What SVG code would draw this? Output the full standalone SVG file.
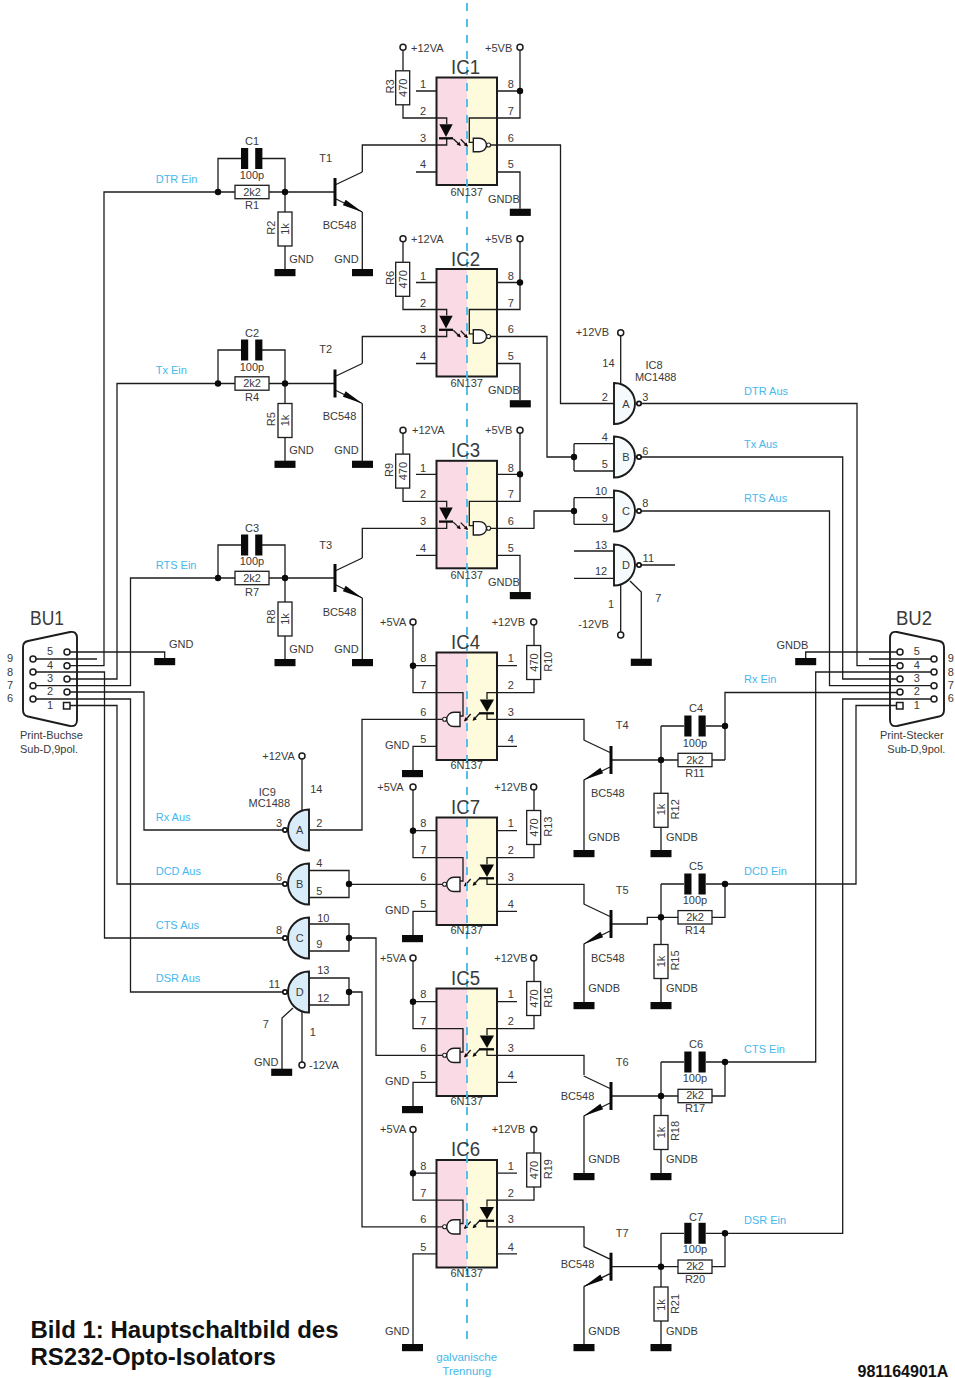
<svg xmlns="http://www.w3.org/2000/svg" width="955" height="1378" viewBox="0 0 955 1378">
<style>
text{font-family:"Liberation Sans",Arial,sans-serif;font-size:11px;fill:#3a3a3a}
.c{text-anchor:middle}
.b{fill:#45b8ec}
.big{font-size:20px}
.ttl{font-size:24px;font-weight:bold;fill:#111}
.no{font-size:16px;font-weight:bold;fill:#111}
.w{fill:none;stroke:#1c1c1c;stroke-width:1.3}
.ol{fill:none;stroke:#1c1c1c;stroke-width:2}
.res{fill:#fff;stroke:#1c1c1c;stroke-width:1.3}
.k{fill:#0a0a0a;stroke:none}
.tm{fill:#fff;stroke:#1c1c1c;stroke-width:1.5}
.g8{fill:#f5fafd;stroke:#1c1c1c;stroke-width:1.9}
.g9{fill:#d8edf9;stroke:#1c1c1c;stroke-width:1.9}
.sh{fill:#fff;stroke:#1c1c1c;stroke-width:1.9}
.dash{fill:none;stroke:#45b8ec;stroke-width:1.8;stroke-dasharray:8 8}
</style>
<defs>
<rect id="bar" class="k" x="-10.5" y="0" width="21" height="7.2"/>
<circle id="term" class="tm" r="3"/>
<circle id="dot" class="k" r="3.2"/>
<rect id="res-h" class="res" x="-17" y="-6.7" width="34" height="13.4"/>
<rect id="res-v" class="res" x="-7" y="-17" width="14" height="34"/>
<g id="cap"><rect class="k" x="-10.7" y="-10.5" width="7.2" height="21"/><rect class="k" x="3.5" y="-10.5" width="7.2" height="21"/></g>
<g id="npn">
<path class="w" d="M1,-7.5 L27.3,-20 M1,7 L27.3,20"/>
<path d="M0,-14 V14" fill="none" stroke="#0a0a0a" stroke-width="3"/>
<polygon class="k" points="27.3,20 7.9,13.2 10.6,7.8"/>
</g>
<g id="gate8"><path class="g8" d="M0,-20.5 A21,20.5 0 0 1 0,20.5 Z"/><circle cx="25" cy="0" r="2.2" fill="#fff" stroke="#111" stroke-width="1.7"/></g>
<g id="gate9"><path class="g9" d="M0,-20.5 A21,20.5 0 0 0 0,20.5 Z"/><circle cx="-24" cy="0" r="2.2" fill="#fff" stroke="#111" stroke-width="1.7"/></g>
<g id="opto-a">
<rect x="436.5" y="77.5" width="30.5" height="107.5" fill="#fadbe5"/>
<rect x="467" y="77.5" width="30" height="107.5" fill="#fefbdc"/>
<path class="w" d="M416,91 H436 M416,172 H436 M436,118 H446.7 V124 M446.7,138 V145 H436 M497,118 H469.3 V142.3 H473.3 M491,145 H497"/>
<rect class="ol" x="436.5" y="77.5" width="60.5" height="107.5"/>
<polygon class="k" points="439.3,124.3 452.7,124.3 446,137"/>
<path d="M439,138.3 H453" fill="none" stroke="#0a0a0a" stroke-width="2.3"/>
<path class="w" d="M453.3,138.8 L460,145.3 M460.7,139.3 L467.3,146"/>
<polygon class="k" points="460.8,146 456.6,144.6 459.4,141.8"/>
<polygon class="k" points="468,146.7 463.8,145.3 466.6,142.5"/>
<path fill="#fff" stroke="#1c1c1c" stroke-width="1.4" d="M473.3,138.3 H479.5 A7,6.7 0 0 1 479.5,151.7 H473.3 Z"/>
<circle cx="488.6" cy="145" r="2" fill="#fff" stroke="#1c1c1c" stroke-width="1.1"/>
</g>
<g id="opto-b">
<rect x="436.5" y="652.5" width="30.5" height="107.5" fill="#fadbe5"/>
<rect x="467" y="652.5" width="30" height="107.5" fill="#fefbdc"/>
<path class="w" d="M497,665.7 H517 M497,746.3 H517 M497,692.7 H487 V699.3 M487,713 V719.3 H497 M436,692.7 H463 V716 H460 M436,719.3 H442.5"/>
<rect class="ol" x="436.5" y="652.5" width="60.5" height="107.5"/>
<polygon class="k" points="479.7,699.5 494,699.5 487,712"/>
<path d="M479,713.3 H494" fill="none" stroke="#0a0a0a" stroke-width="2.3"/>
<path class="w" d="M479.3,713.5 L473.3,720 M470.7,714 L464.7,720.7"/>
<polygon class="k" points="472.6,720.8 474,716.6 476.8,719.4"/>
<polygon class="k" points="464,721.5 465.4,717.3 468.2,720.1"/>
<path fill="#fff" stroke="#1c1c1c" stroke-width="1.4" d="M460,712.3 H453.8 A7,7 0 0 0 453.8,726.5 H460 Z"/>
<circle cx="444.6" cy="719.3" r="2" fill="#fff" stroke="#1c1c1c" stroke-width="1.1"/>
</g>
<path id="shell" class="sh" d="M28,641 L70,632 Q77,631 77,638 V720 Q77,727 70,726 L28,716.5 Q23,715.5 23,710 V647 Q23,642 28,641 Z"/>
</defs>

<g id="BU1-shell"><use href="#shell"/></g>
<g id="BU2-shell"><use href="#shell" transform="translate(967,0) scale(-1,1)"/></g>

<g id="IC1-body"><use href="#opto-a"/></g>
<g id="IC2-body"><use href="#opto-a" y="191.5"/></g>
<g id="IC3-body"><use href="#opto-a" y="383.3"/></g>
<g id="IC4-body"><use href="#opto-b"/></g>
<g id="IC7-body"><use href="#opto-b" y="165"/></g>
<g id="IC5-body"><use href="#opto-b" y="336"/></g>
<g id="IC6-body"><use href="#opto-b" y="507.5"/></g>

<g id="connectors" class="w">
<path d="M67,652 H164.7 V658 M33,659 H97 M67,665.7 H104 V192 H335 M33,672 H104.5 V938 H284 M67,679 H117 V383.5 H335 M33,685.7 H130.5 V578 H335 M67,692 H144 V830 H283 M67,705.5 H117 V884 H283 M33,699 H130.5 V992 H283"/>
<path d="M218,192 V158.5 H241 M262,158.5 H285 V269 M362.3,172 V145 H436 M362.3,212 V269"/>
<path d="M218,383.5 V350 H241 M262,350 H285 V461 M362.3,363.5 V336.5 H436 M362.3,403.5 V461"/>
<path d="M218,578 V545 H241 M262,545 H285 V659 M362.3,558 V528.3 H436 M362.3,598 V659"/>
<path d="M403,50 V118 H436 M520,50 V118 H497 M497,91 H520 M497,172 H520 V208.7 M497,145 H560.5 V403.5 H614"/>
<path d="M403,241.5 V309.5 H436 M520,241.5 V309.5 H497 M497,282.5 H520 M497,363.5 H520 V400.2 M497,336.5 H547 V457 H574 M574,443.7 V471 M574,443.7 H614 M574,471 H614"/>
<path d="M403,433.3 V501.3 H436 M520,433.3 V501.3 H497 M497,474.3 H520 M497,555.3 H520 V592 M497,528.3 H534 V511 H574 M574,497.7 V524.3 M574,497.7 H614 M574,524.3 H614"/>
<path d="M574,551 H614 M574,578.3 H614 M640,565 H675 M620.7,335.7 V383.5 M620.7,585 V632 M630,581 L641.3,592 V658.7"/>
<path d="M640,403.5 H857 V665.7 H900 M640,457 H842.7 V679 H900 M640,511 H829.5 V685.7 H934 M900,652 H805.7 V658 M934,659 H869 M934,672 H815.7 V1062 H725 M900,692.5 H725 V760 M934,699 H842.7 V1233.3 H725 M900,705.5 H856 V884 H725"/>
<path d="M413,625 V692.7 H436 M413,665.7 H436 M436,746.3 H413 V770 M534,625 V692.7 H497 M497,719.3 H584 V740 M584,780 V850 M611,760 H725 M661,726 V850 M661,726 H684 M706,726 H725"/>
<path d="M413,790 V857.7 H436 M413,830.7 H436 M436,911.3 H413 V935 M534,790 V857.7 H497 M497,884.3 H584 V904 M584,944 V1002 M611,924 H647.3 V917.3 H725 V884 M661,884 V1002 M661,884 H684 M706,884 H725"/>
<path d="M413,961 V1028.7 H436 M413,1001.7 H436 M436,1082.3 H413 V1106 M534,961 V1028.7 H497 M497,1055.3 H584 V1075 M584,1116 V1173 M611,1096 H725 V1062 M661,1062 V1173 M661,1062 H684 M706,1062 H725"/>
<path d="M413,1132.5 V1200.2 H436 M413,1173.2 H436 M436,1253.8 H413 V1344 M534,1132.5 V1200.2 H497 M497,1226.8 H584 V1246.7 M584,1286.7 V1344 M611,1266.7 H725 V1233.3 M661,1233.3 V1344 M661,1233.3 H684 M706,1233.3 H725"/>
<path d="M309,830 H362 V719.3 H436 M309,870.5 H349 V897.5 H309 M349,884.3 H436 M309,924 H349 V951 H309 M349,938 H376 V1055.3 H436 M309,978 H349 V1005 H309 M349,992 H362 V1226.8 H436 M302,759 V813 M302,1010 V1062 M293,1008 L282,1018 V1069"/>
</g>

<path id="isolation" class="dash" d="M467,3 V1345"/>

<g id="resistors">
<use href="#res-h" x="252" y="192"/><use href="#res-h" x="252" y="383.5"/><use href="#res-h" x="252" y="578"/>
<use href="#res-v" x="285" y="229"/><use href="#res-v" x="285" y="420.5"/><use href="#res-v" x="285" y="619"/>
<use href="#res-v" x="402.7" y="87.8"/><use href="#res-v" x="402.7" y="279.3"/><use href="#res-v" x="402.7" y="471.1"/>
<use href="#res-v" x="533.7" y="662.5"/><use href="#res-v" x="533.7" y="827.5"/><use href="#res-v" x="533.7" y="998.5"/><use href="#res-v" x="533.7" y="1170"/>
<use href="#res-h" x="695" y="760"/><use href="#res-h" x="695" y="917.3"/><use href="#res-h" x="695" y="1096"/><use href="#res-h" x="695" y="1266.7"/>
<use href="#res-v" x="661" y="810.3"/><use href="#res-v" x="661" y="961.5"/><use href="#res-v" x="661" y="1132.5"/><use href="#res-v" x="661" y="1304"/>
</g>
<g id="capacitors">
<use href="#cap" x="251.7" y="158.5"/><use href="#cap" x="251.7" y="350"/><use href="#cap" x="251.7" y="545"/>
<use href="#cap" x="695" y="726"/><use href="#cap" x="695" y="884"/><use href="#cap" x="695" y="1062"/><use href="#cap" x="695" y="1233.3"/>
</g>
<g id="T1"><use href="#npn" transform="translate(335,192)"/></g>
<g id="T2"><use href="#npn" transform="translate(335,383.5)"/></g>
<g id="T3"><use href="#npn" transform="translate(335,578)"/></g>
<g id="T4"><use href="#npn" transform="translate(611,760) scale(-1,1)"/></g>
<g id="T5"><use href="#npn" transform="translate(611,924) scale(-1,1)"/></g>
<g id="T6"><use href="#npn" transform="translate(611,1096) scale(-1,1)"/></g>
<g id="T7"><use href="#npn" transform="translate(611,1266.7) scale(-1,1)"/></g>
<g id="IC8">
<use href="#gate8" x="614" y="403.5"/><use href="#gate8" x="614" y="457"/><use href="#gate8" x="614" y="511"/><use href="#gate8" x="614" y="565"/>
</g>
<g id="IC9">
<use href="#gate9" x="309" y="830"/><use href="#gate9" x="309" y="884"/><use href="#gate9" x="309" y="938"/><use href="#gate9" x="309" y="992"/>
</g>
<g id="ground-bars">
<use href="#bar" x="164.7" y="658"/><use href="#bar" x="805.7" y="658"/>
<use href="#bar" x="285" y="269"/><use href="#bar" x="362.5" y="269"/>
<use href="#bar" x="285" y="460.7"/><use href="#bar" x="362.5" y="460.7"/>
<use href="#bar" x="285" y="659"/><use href="#bar" x="362.5" y="659"/>
<use href="#bar" x="520.3" y="208.7"/><use href="#bar" x="520.3" y="400.2"/><use href="#bar" x="520.3" y="592"/>
<use href="#bar" x="641.3" y="658.7"/><use href="#bar" x="281.7" y="1068.7"/>
<use href="#bar" x="412.5" y="770"/><use href="#bar" x="412.5" y="935"/><use href="#bar" x="412.5" y="1106"/><use href="#bar" x="412.5" y="1344"/>
<use href="#bar" x="584" y="850"/><use href="#bar" x="661" y="850"/>
<use href="#bar" x="584" y="1002"/><use href="#bar" x="661" y="1002"/>
<use href="#bar" x="584" y="1173"/><use href="#bar" x="661" y="1173"/>
<use href="#bar" x="584" y="1344"/><use href="#bar" x="661" y="1344"/>
</g>
<g id="terminals">
<use href="#term" x="403" y="47.3"/><use href="#term" x="520" y="47.3"/>
<use href="#term" x="403" y="238.8"/><use href="#term" x="520" y="238.8"/>
<use href="#term" x="403" y="430.3"/><use href="#term" x="520" y="430.3"/>
<use href="#term" x="413" y="622"/><use href="#term" x="533.7" y="622"/>
<use href="#term" x="413" y="787"/><use href="#term" x="533.7" y="787"/>
<use href="#term" x="413" y="958"/><use href="#term" x="533.7" y="958"/>
<use href="#term" x="413" y="1129.5"/><use href="#term" x="533.7" y="1129.5"/>
<use href="#term" x="620.7" y="332.7"/><use href="#term" x="620.7" y="635"/>
<use href="#term" x="302" y="756"/><use href="#term" x="302" y="1065"/>
<use href="#term" x="67" y="652"/><use href="#term" x="33" y="659"/><use href="#term" x="67" y="665.7"/><use href="#term" x="33" y="672"/><use href="#term" x="67" y="679"/><use href="#term" x="33" y="685.7"/><use href="#term" x="67" y="692"/><use href="#term" x="33" y="699"/>
<rect class="tm" x="63.5" y="702.5" width="6.5" height="6.5"/>
<use href="#term" x="900" y="652"/><use href="#term" x="934" y="659"/><use href="#term" x="900" y="665.7"/><use href="#term" x="934" y="672"/><use href="#term" x="900" y="679"/><use href="#term" x="934" y="685.7"/><use href="#term" x="900" y="692"/><use href="#term" x="934" y="699"/>
<rect class="tm" x="896.5" y="702.5" width="6.5" height="6.5"/>
</g>
<g id="junctions">
<use href="#dot" x="218" y="192"/><use href="#dot" x="285" y="192"/>
<use href="#dot" x="218" y="383.5"/><use href="#dot" x="285" y="383.5"/>
<use href="#dot" x="218" y="578"/><use href="#dot" x="285" y="578"/>
<use href="#dot" x="520" y="91"/><use href="#dot" x="520" y="282.5"/><use href="#dot" x="520" y="474.3"/>
<use href="#dot" x="574" y="457"/><use href="#dot" x="574" y="511"/>
<use href="#dot" x="413" y="665.7"/><use href="#dot" x="413" y="830.7"/><use href="#dot" x="413" y="1001.7"/><use href="#dot" x="413" y="1173.2"/>
<use href="#dot" x="661" y="760"/><use href="#dot" x="725" y="726"/>
<use href="#dot" x="661" y="917.3"/><use href="#dot" x="725" y="884"/>
<use href="#dot" x="661" y="1096"/><use href="#dot" x="725" y="1062"/>
<use href="#dot" x="661" y="1266.7"/><use href="#dot" x="725" y="1233.3"/>
<use href="#dot" x="349" y="884"/><use href="#dot" x="349" y="938"/><use href="#dot" x="349" y="992"/>
</g>

<g id="labels-upper">
<text x="411" y="51.7">+12VA</text><text x="485" y="51.7">+5VB</text>
<text class="big" x="451" y="74" textLength="29" lengthAdjust="spacingAndGlyphs">IC1</text>
<text class="c" x="423" y="88.3">1</text><text class="c" x="423" y="115">2</text><text class="c" x="423" y="141.7">3</text><text class="c" x="423" y="168.3">4</text>
<text class="c" x="510.7" y="88.3">8</text><text class="c" x="510.7" y="115">7</text><text class="c" x="510.7" y="141.7">6</text><text class="c" x="510.7" y="168.3">5</text>
<text class="c" x="466.7" y="195.7">6N137</text><text x="488" y="202.7">GNDB</text>
<text class="c" transform="translate(394,86.5) rotate(-90)">R3</text><text class="c" transform="translate(406.7,87.8) rotate(-90)">470</text>
<text x="411" y="243.2">+12VA</text><text x="485" y="243.2">+5VB</text>
<text class="big" x="451" y="265.5" textLength="29" lengthAdjust="spacingAndGlyphs">IC2</text>
<text class="c" x="423" y="279.8">1</text><text class="c" x="423" y="306.5">2</text><text class="c" x="423" y="333.2">3</text><text class="c" x="423" y="359.8">4</text>
<text class="c" x="510.7" y="279.8">8</text><text class="c" x="510.7" y="306.5">7</text><text class="c" x="510.7" y="333.2">6</text><text class="c" x="510.7" y="359.8">5</text>
<text class="c" x="466.7" y="387.2">6N137</text><text x="488" y="394.2">GNDB</text>
<text class="c" transform="translate(394,278) rotate(-90)">R6</text><text class="c" transform="translate(406.7,279.3) rotate(-90)">470</text>
<text x="412" y="434.3">+12VA</text><text x="485" y="434.3">+5VB</text>
<text class="big" x="451" y="457.3" textLength="29" lengthAdjust="spacingAndGlyphs">IC3</text>
<text class="c" x="423" y="471.6">1</text><text class="c" x="423" y="498.3">2</text><text class="c" x="423" y="525">3</text><text class="c" x="423" y="551.6">4</text>
<text class="c" x="510.7" y="471.6">8</text><text class="c" x="510.7" y="498.3">7</text><text class="c" x="510.7" y="525">6</text><text class="c" x="510.7" y="551.6">5</text>
<text class="c" x="466.7" y="579">6N137</text><text x="488" y="586">GNDB</text>
<text class="c" transform="translate(393,470) rotate(-90)">R9</text><text class="c" transform="translate(406.7,471.1) rotate(-90)">470</text>
</g>
<g id="labels-input">
<text class="b" x="155.7" y="182.7">DTR Ein</text><text class="b" x="155.7" y="374">Tx Ein</text><text class="b" x="155.7" y="569">RTS Ein</text>
<text class="c" x="252" y="145">C1</text><text class="c" x="252" y="179">100p</text><text class="c" x="252" y="195.8">2k2</text><text class="c" x="252" y="209">R1</text>
<text class="c" transform="translate(275,227.7) rotate(-90)">R2</text><text class="c" transform="translate(289,229) rotate(-90)">1k</text>
<text x="319.3" y="161.7">T1</text><text x="322.7" y="228.7">BC548</text><text x="289.3" y="262.7">GND</text><text x="334.3" y="262.7">GND</text>
<text class="c" x="252" y="336.5">C2</text><text class="c" x="252" y="370.5">100p</text><text class="c" x="252" y="387.3">2k2</text><text class="c" x="252" y="400.5">R4</text>
<text class="c" transform="translate(275,419.2) rotate(-90)">R5</text><text class="c" transform="translate(289,420.5) rotate(-90)">1k</text>
<text x="319.3" y="353.3">T2</text><text x="322.7" y="420.2">BC548</text><text x="289.3" y="454.2">GND</text><text x="334.3" y="454.2">GND</text>
<text class="c" x="252" y="531.5">C3</text><text class="c" x="252" y="565">100p</text><text class="c" x="252" y="581.8">2k2</text><text class="c" x="252" y="595.5">R7</text>
<text class="c" transform="translate(275,616.7) rotate(-90)">R8</text><text class="c" transform="translate(289,619) rotate(-90)">1k</text>
<text x="319.3" y="549">T3</text><text x="322.7" y="616">BC548</text><text x="289.3" y="652.7">GND</text><text x="334.3" y="652.7">GND</text>
</g>
<g id="labels-IC8">
<text x="575.7" y="335.7">+12VB</text><text x="602.3" y="366.7">14</text>
<text class="c" x="654" y="369">IC8</text><text class="c" x="655.7" y="380.7">MC1488</text>
<text class="c" x="604.7" y="400.7">2</text><text class="c" x="645.3" y="400.7">3</text><text class="c" x="626" y="407.5">A</text>
<text class="c" x="604.7" y="440.7">4</text><text class="c" x="604.7" y="467.7">5</text><text class="c" x="645.3" y="454.7">6</text><text class="c" x="626" y="461">B</text>
<text class="c" x="601" y="494.7">10</text><text class="c" x="604.7" y="521.7">9</text><text class="c" x="645.3" y="507.3">8</text><text class="c" x="626" y="515">C</text>
<text class="c" x="601" y="549">13</text><text class="c" x="601" y="575">12</text><text class="c" x="648.3" y="561.7">11</text><text class="c" x="626" y="569">D</text>
<text class="c" x="658.3" y="601.7">7</text><text class="c" x="611" y="608.3">1</text><text x="578.3" y="628.3">-12VB</text>
<text class="b" x="744" y="395">DTR Aus</text><text class="b" x="744" y="448">Tx Aus</text><text class="b" x="744" y="502">RTS Aus</text>
</g>
<g id="labels-BU1">
<text class="big" x="30" y="625" textLength="34" lengthAdjust="spacingAndGlyphs">BU1</text>
<text x="169" y="648.3">GND</text>
<text class="c" x="50" y="655">5</text><text class="c" x="50" y="669">4</text><text class="c" x="50" y="682.3">3</text><text class="c" x="50" y="694.7">2</text><text class="c" x="50" y="709.3">1</text>
<text class="c" x="10" y="662.3">9</text><text class="c" x="10" y="675.7">8</text><text class="c" x="10" y="689">7</text><text class="c" x="10" y="702.3">6</text>
<text x="20" y="739.3">Print-Buchse</text><text x="20" y="752.7">Sub-D,9pol.</text>
</g>
<g id="labels-BU2">
<text class="big" x="896" y="625" textLength="36" lengthAdjust="spacingAndGlyphs">BU2</text>
<text x="776.5" y="649">GNDB</text>
<text class="c" x="916.7" y="655">5</text><text class="c" x="916.7" y="669">4</text><text class="c" x="916.7" y="682.3">3</text><text class="c" x="916.7" y="694.7">2</text><text class="c" x="916.7" y="709.3">1</text>
<text x="947.8" y="662.3">9</text><text x="947.8" y="675.7">8</text><text x="947.8" y="689">7</text><text x="947.8" y="702.3">6</text>
<text x="880" y="739.3">Print-Stecker</text><text x="887.3" y="752.7">Sub-D,9pol.</text>
</g>
<g id="labels-lower">
<text x="380" y="625.7">+5VA</text><text x="491.7" y="625.7">+12VB</text>
<text class="big" x="451" y="649.3" textLength="29" lengthAdjust="spacingAndGlyphs">IC4</text>
<text class="c" x="423.3" y="662.3">8</text><text class="c" x="423.3" y="689.3">7</text><text class="c" x="423.3" y="715.9">6</text><text class="c" x="423.3" y="743">5</text>
<text class="c" x="510.7" y="662.3">1</text><text class="c" x="510.7" y="689.3">2</text><text class="c" x="510.7" y="715.9">3</text><text class="c" x="510.7" y="743">4</text>
<text class="c" x="466.7" y="769.3">6N137</text><text x="385" y="749.3">GND</text>
<text class="c" transform="translate(538,662.5) rotate(-90)">470</text><text class="c" transform="translate(551.7,661.7) rotate(-90)">R10</text>
<text x="377.3" y="790.7">+5VA</text><text x="494.3" y="790.7">+12VB</text>
<text class="big" x="451" y="814.3" textLength="29" lengthAdjust="spacingAndGlyphs">IC7</text>
<text class="c" x="423.3" y="827.3">8</text><text class="c" x="423.3" y="854.3">7</text><text class="c" x="423.3" y="880.9">6</text><text class="c" x="423.3" y="908">5</text>
<text class="c" x="510.7" y="827.3">1</text><text class="c" x="510.7" y="854.3">2</text><text class="c" x="510.7" y="880.9">3</text><text class="c" x="510.7" y="908">4</text>
<text class="c" x="466.7" y="934.3">6N137</text><text x="385" y="914.3">GND</text>
<text class="c" transform="translate(538,827.5) rotate(-90)">470</text><text class="c" transform="translate(551.7,826.7) rotate(-90)">R13</text>
<text x="380" y="961.7">+5VA</text><text x="494.3" y="961.7">+12VB</text>
<text class="big" x="451" y="985.3" textLength="29" lengthAdjust="spacingAndGlyphs">IC5</text>
<text class="c" x="423.3" y="998.3">8</text><text class="c" x="423.3" y="1025.3">7</text><text class="c" x="423.3" y="1051.9">6</text><text class="c" x="423.3" y="1079">5</text>
<text class="c" x="510.7" y="998.3">1</text><text class="c" x="510.7" y="1025.3">2</text><text class="c" x="510.7" y="1051.9">3</text><text class="c" x="510.7" y="1079">4</text>
<text class="c" x="466.7" y="1105.3">6N137</text><text x="385" y="1085.3">GND</text>
<text class="c" transform="translate(538,998.5) rotate(-90)">470</text><text class="c" transform="translate(551.7,997.7) rotate(-90)">R16</text>
<text x="380" y="1132.7">+5VA</text><text x="491.7" y="1132.7">+12VB</text>
<text class="big" x="451" y="1156.3" textLength="29" lengthAdjust="spacingAndGlyphs">IC6</text>
<text class="c" x="423.3" y="1169.8">8</text><text class="c" x="423.3" y="1196.8">7</text><text class="c" x="423.3" y="1223.4">6</text><text class="c" x="423.3" y="1250.5">5</text>
<text class="c" x="510.7" y="1169.8">1</text><text class="c" x="510.7" y="1196.8">2</text><text class="c" x="510.7" y="1223.4">3</text><text class="c" x="510.7" y="1250.5">4</text>
<text class="c" x="466.7" y="1276.8">6N137</text><text x="385" y="1334.7">GND</text>
<text class="c" transform="translate(538,1170) rotate(-90)">470</text><text class="c" transform="translate(551.7,1169.2) rotate(-90)">R19</text>
</g>
<g id="labels-output">
<text x="615.7" y="729.3">T4</text><text x="591" y="796.7">BC548</text><text x="588.3" y="840.7">GNDB</text><text x="666" y="840.7">GNDB</text>
<text class="c" x="696" y="712.3">C4</text><text class="c" x="695" y="746.7">100p</text><text class="c" x="695" y="764">2k2</text><text class="c" x="695" y="776.7">R11</text>
<text class="c" transform="translate(665,809.5) rotate(-90)">1k</text><text class="c" transform="translate(679.3,809.3) rotate(-90)">R12</text>
<text x="615.7" y="894">T5</text><text x="591" y="961.7">BC548</text><text x="588.3" y="991.7">GNDB</text><text x="666" y="991.7">GNDB</text>
<text class="c" x="696" y="870">C5</text><text class="c" x="695" y="904.3">100p</text><text class="c" x="695" y="921.3">2k2</text><text class="c" x="695" y="934">R14</text>
<text class="c" transform="translate(665,961.5) rotate(-90)">1k</text><text class="c" transform="translate(679.3,960.5) rotate(-90)">R15</text>
<text x="615.7" y="1065.7">T6</text><text x="560.7" y="1099.7">BC548</text><text x="588.3" y="1162.7">GNDB</text><text x="666" y="1162.7">GNDB</text>
<text class="c" x="696" y="1048.3">C6</text><text class="c" x="695" y="1082.3">100p</text><text class="c" x="695" y="1099.3">2k2</text><text class="c" x="695" y="1111.7">R17</text>
<text class="c" transform="translate(665,1132.5) rotate(-90)">1k</text><text class="c" transform="translate(679.3,1131) rotate(-90)">R18</text>
<text x="615.7" y="1236.7">T7</text><text x="560.7" y="1267.7">BC548</text><text x="588.3" y="1334.7">GNDB</text><text x="666" y="1334.7">GNDB</text>
<text class="c" x="696" y="1220.7">C7</text><text class="c" x="695" y="1253.3">100p</text><text class="c" x="695" y="1270">2k2</text><text class="c" x="695" y="1283.3">R20</text>
<text class="c" transform="translate(665,1305) rotate(-90)">1k</text><text class="c" transform="translate(679.3,1304) rotate(-90)">R21</text>
<text class="b" x="744" y="683">Rx Ein</text><text class="b" x="744" y="875">DCD Ein</text><text class="b" x="744" y="1053">CTS Ein</text><text class="b" x="744" y="1224">DSR Ein</text>
</g>
<g id="labels-IC9">
<text x="262.3" y="760">+12VA</text><text class="c" x="316.3" y="793.3">14</text>
<text class="c" x="267.3" y="795.7">IC9</text><text class="c" x="269.3" y="806.7">MC1488</text>
<text class="c" x="279" y="826.7">3</text><text class="c" x="319.3" y="826.7">2</text><text class="c" x="299.7" y="834.3">A</text>
<text class="c" x="279" y="880.7">6</text><text class="c" x="319.3" y="867.3">4</text><text class="c" x="319.3" y="895">5</text><text class="c" x="299.7" y="888">B</text>
<text class="c" x="279" y="934.3">8</text><text class="c" x="323.3" y="921.7">10</text><text class="c" x="319.3" y="948.3">9</text><text class="c" x="299.7" y="942">C</text>
<text class="c" x="274.3" y="988.3">11</text><text class="c" x="323.3" y="974.3">13</text><text class="c" x="323.3" y="1001.7">12</text><text class="c" x="299.7" y="996">D</text>
<text class="c" x="265.7" y="1028.3">7</text><text class="c" x="312.7" y="1035.7">1</text><text x="254" y="1066">GND</text><text x="309" y="1069">-12VA</text>
<text class="b" x="155.7" y="821">Rx Aus</text><text class="b" x="155.7" y="875">DCD Aus</text><text class="b" x="155.7" y="929">CTS Aus</text><text class="b" x="155.7" y="982">DSR Aus</text>
</g>
<g id="captions">
<text class="b c" style="font-size:11.5px" x="466.7" y="1361">galvanische</text><text class="b c" style="font-size:11.5px" x="466.7" y="1375">Trennung</text>
<text class="ttl" x="30.5" y="1338">Bild 1: Hauptschaltbild des</text><text class="ttl" x="30.5" y="1365">RS232-Opto-Isolators</text>
<text class="no" x="857.5" y="1377">981164901A</text>
</g>
</svg>
